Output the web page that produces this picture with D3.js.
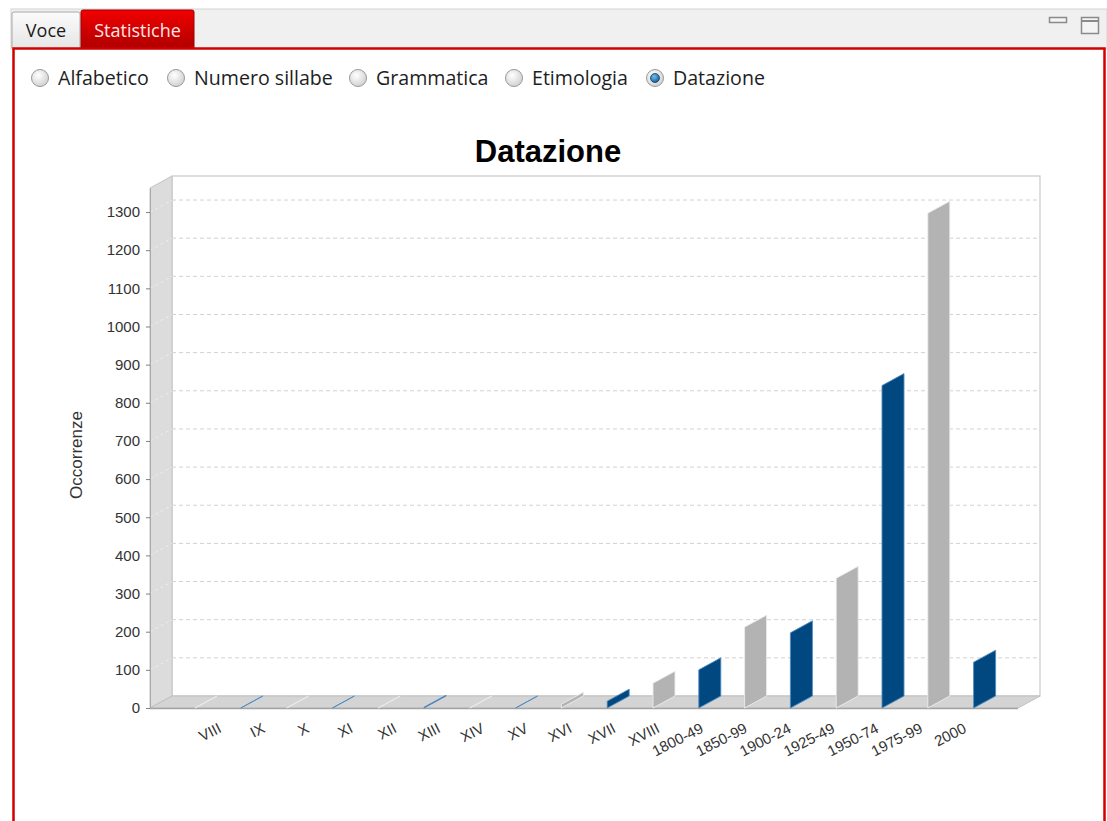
<!DOCTYPE html>
<html>
<head>
<meta charset="utf-8">
<script src="https://cdn.jsdelivr.net/npm/d3@7"></script>
<style>
  body { margin: 0; background: #ffffff; }
  svg { display: block; }
</style>
</head>
<body>
<svg id="view" width="1107" height="821"></svg>
<script>
// ---- data ----
const categories = ["VIII", "IX", "X", "XI", "XII", "XIII", "XIV", "XV", "XVI", "XVII", "XVIII",
  "1800-49", "1850-99", "1900-24", "1925-49", "1950-74", "1975-99", "2000"];
const occurrences = [0, 0, 0, 0, 0, 2, 0, 0, 10, 18, 65, 100, 212, 197, 340, 845, 1297, 120];
const yTickValues = [0, 100, 200, 300, 400, 500, 600, 700, 800, 900, 1000, 1100, 1200, 1300];
const tabLabels = ["Voce", "Statistiche"];
const modeLabels = ["Alfabetico", "Numero sillabe", "Grammatica", "Etimologia", "Datazione"];
const selectedMode = "Datazione";
const chartTitle = "Datazione";
const yTitle = "Occorrenze";

// ---- styling ----
const barFill = ["#b3b3b3", "#00487f"];
const barEdge = ["#ececec", "#4f8cc0"];
const uiFont = "'Open Sans', 'Noto Sans', sans-serif";
const chartFont = "'Liberation Sans', Arial, sans-serif";

const svg = d3.select("#view");
const defs = svg.append("defs");

// ---- window frame & tabs ----
svg.append("rect").attr("x", 0).attr("y", 0).attr("width", 1107).attr("height", 821).attr("fill", "#ffffff");
svg.append("rect").attr("x", 11).attr("y", 9).attr("width", 1096).attr("height", 40)
  .attr("fill", "#f0f0f0").attr("stroke", "#d4d4d4");

const gVoce = defs.append("linearGradient").attr("id", "tabGrey").attr("x1", 0).attr("y1", 0).attr("x2", 0).attr("y2", 1);
gVoce.append("stop").attr("offset", 0).attr("stop-color", "#fbfbfb");
gVoce.append("stop").attr("offset", 1).attr("stop-color", "#e6e6e6");
const gRed = defs.append("linearGradient").attr("id", "tabRed").attr("x1", 0).attr("y1", 0).attr("x2", 0).attr("y2", 1);
gRed.append("stop").attr("offset", 0).attr("stop-color", "#f20000");
gRed.append("stop").attr("offset", 1).attr("stop-color", "#b00000");

const tabBoxes = [{ x: 12, y: 12, w: 68, fill: "url(#tabGrey)", stroke: "#a9a9a9", text: "#1a1a1a" },
                  { x: 81, y: 10, w: 113, fill: "url(#tabRed)", stroke: "#a00000", text: "#ffe6e6" }];
tabLabels.forEach((t, i) => {
  const b = tabBoxes[i];
  svg.append("path")
    .attr("d", `M${b.x},48 L${b.x},${b.y + 2} Q${b.x},${b.y} ${b.x + 2},${b.y} L${b.x + b.w - 2},${b.y} Q${b.x + b.w},${b.y} ${b.x + b.w},${b.y + 2} L${b.x + b.w},48`)
    .attr("fill", b.fill).attr("stroke", b.stroke);
  svg.append("text").attr("x", b.x + b.w / 2).attr("y", 37)
    .attr("text-anchor", "middle").attr("font-family", uiFont).attr("font-size", 18)
    .attr("fill", b.text).text(t);
});

// minimise / maximise icons
svg.append("rect").attr("x", 1049.5).attr("y", 17.5).attr("width", 17).attr("height", 5)
  .attr("fill", "#f4f4f4").attr("stroke", "#8a8a8a").attr("stroke-width", 1.5);
svg.append("rect").attr("x", 1081.5).attr("y", 17.5).attr("width", 17).attr("height", 16)
  .attr("fill", "#f4f4f4").attr("stroke", "#8a8a8a").attr("stroke-width", 1.5);
svg.append("line").attr("x1", 1081).attr("x2", 1099).attr("y1", 21).attr("y2", 21)
  .attr("stroke", "#8a8a8a").attr("stroke-width", 2);

// red content panel
svg.append("rect").attr("x", 13.5).attr("y", 48.5).attr("width", 1091).attr("height", 790)
  .attr("fill", "#ffffff").attr("stroke", "#d00000").attr("stroke-width", 2.5);

// ---- radio buttons ----
const rGrad = defs.append("radialGradient").attr("id", "radioOff").attr("cx", "40%").attr("cy", "35%").attr("r", "70%");
rGrad.append("stop").attr("offset", 0).attr("stop-color", "#ffffff");
rGrad.append("stop").attr("offset", 1).attr("stop-color", "#cfcfcf");
const rOn = defs.append("radialGradient").attr("id", "radioOn").attr("cx", "40%").attr("cy", "35%").attr("r", "70%");
rOn.append("stop").attr("offset", 0).attr("stop-color", "#6fc0f0");
rOn.append("stop").attr("offset", 1).attr("stop-color", "#0b5a96");

const radioX = [40, 176, 358, 514, 655];
modeLabels.forEach((m, i) => {
  const cx = radioX[i];
  svg.append("circle").attr("cx", cx).attr("cy", 78).attr("r", 8.5)
    .attr("fill", "url(#radioOff)").attr("stroke", "#9a9a9a").attr("stroke-width", 1);
  if (m === selectedMode) {
    svg.append("circle").attr("cx", cx).attr("cy", 78).attr("r", 4.5)
      .attr("fill", "url(#radioOn)").attr("stroke", "#1c3f5e").attr("stroke-width", 0.8);
  }
  svg.append("text").attr("x", cx + 18).attr("y", 85)
    .attr("font-family", uiFont).attr("font-size", 19.6).attr("fill", "#1e1e1e").text(m);
});

// ---- 3D bar chart ----
const depthX = 22, depthY = 12;
const frontLeft = 150, frontRight = 1018, frontTop = 188, frontBottom = 708;

const y = d3.scaleLinear().domain([0, 1363]).range([frontBottom, frontTop]);
const xBar = d3.scalePoint().domain(categories).range([195, 973.6]);
const xLabel = d3.scalePoint().domain(categories).range([217, 962]);

const chart = svg.append("g");

// back wall
chart.append("rect")
  .attr("x", frontLeft + depthX).attr("y", frontTop - depthY)
  .attr("width", frontRight - frontLeft).attr("height", frontBottom - frontTop)
  .attr("fill", "#ffffff").attr("stroke", "#c8c8c8").attr("stroke-width", 1.2);

// left wall
chart.append("path")
  .attr("d", `M${frontLeft},${frontBottom} L${frontLeft},${frontTop} L${frontLeft + depthX},${frontTop - depthY} L${frontLeft + depthX},${frontBottom - depthY} Z`)
  .attr("fill", "#dcdcdc").attr("stroke", "#c4c4c4");

// floor
chart.append("path")
  .attr("d", `M${frontLeft},${frontBottom} L${frontRight},${frontBottom} L${frontRight + depthX},${frontBottom - depthY} L${frontLeft + depthX},${frontBottom - depthY} Z`)
  .attr("fill", "#d4d4d4").attr("stroke", "#c0c0c0");
chart.append("line").attr("x1", frontLeft).attr("x2", frontRight)
  .attr("y1", frontBottom + 0.5).attr("y2", frontBottom + 0.5).attr("stroke", "#a4a4a4").attr("stroke-width", 1.3);

// gridlines on back wall and across the left wall
const grid = chart.append("g");
yTickValues.filter(v => v > 0).forEach(v => {
  grid.append("line")
    .attr("x1", frontLeft + depthX).attr("x2", frontRight + depthX)
    .attr("y1", y(v) - depthY).attr("y2", y(v) - depthY)
    .attr("stroke", "#d2d2d2").attr("stroke-dasharray", "4,3");
  grid.append("line")
    .attr("x1", frontLeft).attr("x2", frontLeft + depthX)
    .attr("y1", y(v)).attr("y2", y(v) - depthY)
    .attr("stroke", "#eeeeee").attr("stroke-dasharray", "3,3");
});

// bars: side faces of the 3D columns
chart.append("g").selectAll("path.bar")
  .data(categories.map((c, i) => ({ c, v: occurrences[i], i })))
  .join("path")
  .attr("class", "bar")
  .attr("d", d => {
    const x0 = xBar(d.c), y0 = y(0), y1 = y(d.v);
    return `M${x0},${y0} L${x0},${y1} L${x0 + depthX},${y1 - depthY} L${x0 + depthX},${y0 - depthY} Z`;
  })
  .attr("fill", d => barFill[d.i % 2])
  .attr("stroke", d => barEdge[d.i % 2])
  .attr("stroke-width", 0.9)
  .attr("stroke-linejoin", "round");

// y axis
const yAxis = chart.append("g").attr("transform", `translate(${frontLeft},0)`)
  .call(d3.axisLeft(y).tickValues(yTickValues).tickFormat(d3.format("d"))
    .tickSize(4).tickPadding(6).tickSizeOuter(0));
yAxis.select(".domain").attr("stroke", "#a8a8a8");
yAxis.selectAll(".tick line").attr("stroke", "#808080");
yAxis.selectAll(".tick text").attr("font-family", chartFont).attr("font-size", 15).attr("fill", "#333333");

// category axis labels
const xAxis = chart.append("g").attr("transform", `translate(0,${frontBottom + 14})`)
  .call(d3.axisBottom(xLabel).tickSize(0).tickPadding(0));
xAxis.select(".domain").remove();
xAxis.selectAll(".tick text")
  .attr("font-family", chartFont).attr("font-size", 15).attr("fill", "#333333")
  .attr("text-anchor", "end").attr("y", 0).attr("dy", "0.72em")
  .attr("transform", "rotate(-27)");

// titles
svg.append("text").attr("x", 548).attr("y", 162).attr("text-anchor", "middle")
  .attr("font-family", chartFont).attr("font-weight", "bold").attr("font-size", 31)
  .attr("fill", "#000000").text(chartTitle);
svg.append("text").attr("transform", "translate(82,455) rotate(-90)").attr("text-anchor", "middle")
  .attr("font-family", chartFont).attr("font-size", 17).attr("fill", "#333333").text(yTitle);
</script>
</body>
</html>
